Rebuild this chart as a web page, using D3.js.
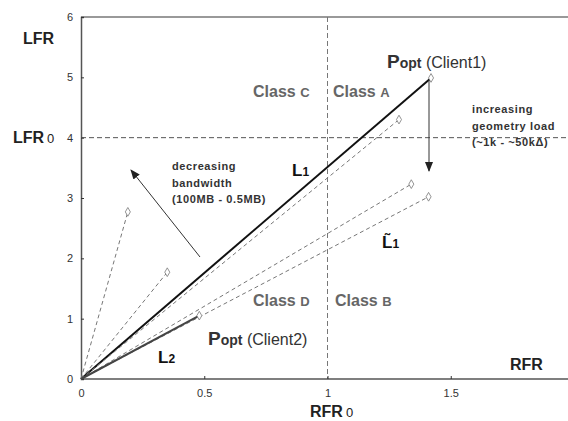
<!DOCTYPE html>
<html>
<head>
<meta charset="utf-8">
<script src="https://cdn.jsdelivr.net/npm/d3@7"></script>
<style>
  body { margin: 0; background: #fff; }
  svg { font-family: "Liberation Sans", Arial, sans-serif; }
  .tick text { font-size: 11px; fill: #333; }
</style>
</head>
<body>
<svg id="chart" width="568" height="421"></svg>
<script>
// rays from the origin out to each measured point
const rayNames = ["L1", "Client1 low bw", "high load a", "high load b", "steep a", "steep b", "L2"]
const rayX     = [1.42, 1.29, 1.34, 1.41, 0.19, 0.35, 0.48]
const rayY     = [4.99, 4.30, 3.23, 3.02, 2.77, 1.77, 1.05]
const rayKind  = ["solid", "dash", "dash", "dash", "dash", "dash", "solid2"]

const xTicks = [0, 0.5, 1, 1.5]
const yTicks = [0, 1, 2, 3, 4, 5, 6]
const rfr0 = 1, lfr0 = 4

const svg = d3.select("#chart")
const x = d3.scaleLinear().domain([0, 2]).range([81, 574])
const y = d3.scaleLinear().domain([0, 6]).range([379, 17])

const defs = svg.append("defs")
defs.append("marker")
  .attr("id", "head")
  .attr("viewBox", "0 0 10 10")
  .attr("refX", 9).attr("refY", 5)
  .attr("markerWidth", 10).attr("markerHeight", 10)
  .attr("markerUnits", "userSpaceOnUse")
  .attr("orient", "auto")
  .append("path").attr("d", "M0,1 L10,5 L0,9 Z").attr("fill", "#222")

// top border
svg.append("line")
  .attr("x1", x(0)).attr("x2", 568).attr("y1", y(6)).attr("y2", y(6))
  .attr("stroke", "#777").attr("stroke-width", 1.5)

// reference lines at RFR0 / LFR0
svg.append("line")
  .attr("x1", x(rfr0)).attr("x2", x(rfr0)).attr("y1", y(6)).attr("y2", y(0))
  .attr("stroke", "#777").attr("stroke-dasharray", "5,3")
svg.append("line")
  .attr("x1", x(0)).attr("x2", 568).attr("y1", y(lfr0)).attr("y2", y(lfr0))
  .attr("stroke", "#555").attr("stroke-dasharray", "5,3")

// axes, ticks pointing inward
const xAxis = svg.append("g").attr("transform", `translate(0,${y(0)})`)
  .call(d3.axisBottom(x).tickValues(xTicks).tickSize(-3).tickPadding(10).tickFormat(d3.format("")))
const yAxis = svg.append("g").attr("transform", `translate(${x(0)},0)`)
  .call(d3.axisLeft(y).tickValues(yTicks).tickSize(-3).tickPadding(8).tickFormat(d3.format("")))
xAxis.select(".domain").attr("d", `M${x(0)},0H568`)
;[xAxis, yAxis].forEach(a => {
  a.select(".domain").attr("stroke", "#555").attr("stroke-width", 1.5)
  a.selectAll(".tick line").attr("stroke", "#333")
})

// rays
const rays = rayNames.map((n, i) => ({ name: n, x: rayX[i], y: rayY[i], kind: rayKind[i] }))
svg.append("g").selectAll("line")
  .data(rays)
  .join("line")
  .attr("x1", x(0)).attr("y1", y(0))
  .attr("x2", d => x(d.x)).attr("y2", d => y(d.y))
  .attr("stroke", d => d.kind == "solid" ? "#111" : d.kind == "solid2" ? "#444" : "#777")
  .attr("stroke-width", d => d.kind == "dash" ? 1 : 2)
  .attr("stroke-dasharray", d => d.kind == "dash" ? "4,3" : null)

svg.append("g").selectAll("path")
  .data(rays)
  .join("path")
  .attr("transform", d => `translate(${x(d.x)},${y(d.y)})`)
  .attr("d", d3.symbol(d3.symbolDiamond).size(22))
  .attr("fill", "#fff").attr("stroke", "#777").attr("stroke-width", 0.8)

// arrows
svg.append("line")
  .attr("x1", 200).attr("y1", 257).attr("x2", 131).attr("y2", 170)
  .attr("stroke", "#333").attr("stroke-width", 1).attr("marker-end", "url(#head)")
svg.append("line")
  .attr("x1", 429).attr("y1", 80).attr("x2", 429).attr("y2", 171)
  .attr("stroke", "#333").attr("stroke-width", 1).attr("marker-end", "url(#head)")

// labels
const label = (tx, ty, parts, color = "#222") => {
  const t = svg.append("text").attr("x", tx).attr("y", ty).attr("fill", color)
  parts.forEach(p => t.append("tspan")
    .attr("font-size", p[1]).attr("font-weight", p[2] || "bold")
    .attr("dx", p[3] || 0).text(p[0]))
  return t
}

label(23, 44, [["LFR", 16]])
label(13, 143, [["LFR", 16], ["0", 13, "normal", 3]])
label(510, 370, [["RFR", 16]])
label(310, 417, [["RFR", 16], ["0", 13, "normal", 3]])

label(253, 97, [["Class ", 16], ["C", 13]], "#666")
label(333, 97, [["Class ", 16], ["A", 13]], "#666")
label(253, 306, [["Class ", 16], ["D", 13]], "#666")
label(335, 306, [["Class ", 16], ["B", 13]], "#666")

label(387, 68, [["P", 19], ["opt", 14], [" (Client1)", 16, "normal"]], "#333")
label(208, 345, [["P", 19], ["opt", 14], [" (Client2)", 16, "normal"]], "#333")

label(292, 176, [["L", 17], ["1", 12]], "#111")
label(158, 363, [["L", 17], ["2", 12]], "#111")
label(382, 248, [["L\u0303", 17], ["1", 12]], "#111")

const small = (tx, ty, lines) => lines.forEach((s, i) =>
  svg.append("text").attr("x", tx).attr("y", ty + i * 16.5)
    .attr("font-size", 11).attr("font-weight", "bold").attr("fill", "#333")
    .attr("letter-spacing", 0.6).text(s))
small(172, 170, ["decreasing", "bandwidth", "(100MB - 0.5MB)"])
small(472, 113, ["increasing", "geometry load", "(~1k - ~50k\u0394)"])
</script>
</body>
</html>
